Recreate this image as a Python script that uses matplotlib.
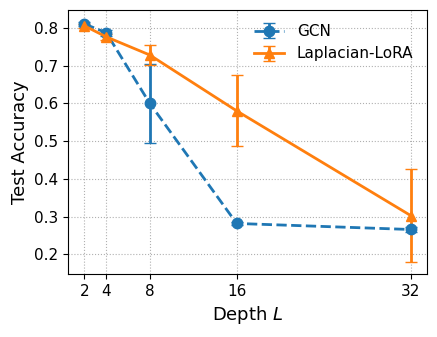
import matplotlib
matplotlib.use("Agg")
import matplotlib.pyplot as plt

depths = [2, 4, 8, 16, 32]
gcn_acc = [0.810, 0.787, 0.600, 0.282, 0.266]
gcn_err = [0.005, 0.008, 0.105, 0.004, 0.006]
lora_acc = [0.805, 0.776, 0.728, 0.580, 0.303]
lora_err = [0.006, 0.008, 0.026, 0.094, 0.123]

fig, ax = plt.subplots(figsize=(4.37, 3.37), dpi=100)
ax.errorbar(depths, gcn_acc, yerr=gcn_err, label="GCN", color="#1f77b4",
            linestyle="--", linewidth=2, marker="o", markersize=7.5, capsize=4)
ax.errorbar(depths, lora_acc, yerr=lora_err, label="Laplacian-LoRA", color="#ff7f0e",
            linestyle="-", linewidth=2, marker="^", markersize=7.5, capsize=4)

ax.set_xticks(depths)
ax.tick_params(labelsize=11)
ax.set_xlabel("Depth $L$", fontsize=13)
ax.set_ylabel("Test Accuracy", fontsize=13)
ax.grid(True, linestyle=":", color="#b0b0b0")
ax.legend(loc="upper right", frameon=False, fontsize=11)
fig.subplots_adjust(left=0.156, right=0.977, top=0.970, bottom=0.187)
fig.savefig("out.png", dpi=100)
